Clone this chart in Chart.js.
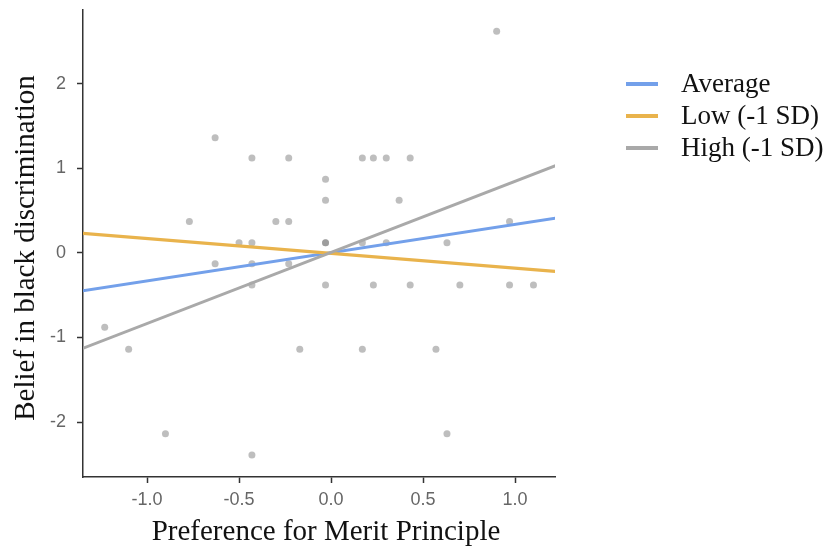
<!DOCTYPE html>
<html>
<head>
<meta charset="utf-8">
<script src="https://cdn.jsdelivr.net/npm/chart.js@4/dist/chart.umd.min.js"></script>
<style>
  html, body { margin: 0; padding: 0; background: #ffffff; }
  #wrap { width: 830px; height: 549px; }
</style>
</head>
<body>
<div id="wrap"><canvas id="c" width="830" height="549"></canvas></div>
<script>
// ---- data ----
const pointsX = [-0.63, -0.43, -0.23, -0.03, -0.03, -0.77, -0.30, -0.23, 0.90, 0.17, 0.23, 0.30, 0.43, 0.37, 0.97,
                 -0.50, -0.43, -0.03, -0.03, -0.63, -0.43, -0.23, -0.43, -0.03, -1.23, -1.10, -0.17, -0.90, -0.43,
                 0.17, 0.30, 0.63, 0.23, 0.43, 0.70, 0.97, 1.10, 0.17, 0.57, 0.63];
const pointsY = [1.36, 1.12, 1.12, 0.87, 0.62, 0.37, 0.37, 0.37, 2.62, 1.12, 1.12, 1.12, 1.12, 0.62, 0.37,
                 0.12, 0.12, 0.12, 0.12, -0.13, -0.13, -0.13, -0.38, -0.38, -0.88, -1.14, -1.14, -2.14, -2.39,
                 0.12, 0.12, 0.12, -0.38, -0.38, -0.38, -0.38, -0.38, -1.14, -1.14, -2.14];
const lineX = [-1.35, 1.22];
const seriesNames = ['Average', 'Low (-1 SD)', 'High (-1 SD)'];
const averageY = [-0.45, 0.41];
const lowY = [0.23, -0.22];
const highY = [-1.13, 1.03];
const xTicks = [-1.0, -0.5, 0.0, 0.5, 1.0];
const yTicks = [-2, -1, 0, 1, 2];
const xRange = [-1.348, 1.217];
const yRange = [-2.65, 2.87];
const xTitle = 'Preference for Merit Principle';
const yTitle = 'Belief in black discrimination';

const colors = ['#73a0ea', '#e9b34c', '#a9a9a9'];
const lineSeries = [averageY, lowY, highY];

const toXY = (xs, ys) => xs.map((x, i) => ({x: x, y: ys[i]}));

const datasets = [];
[2, 1, 0].forEach(i => {
  datasets.push({
    type: 'line',
    label: seriesNames[i],
    data: toXY(lineX, lineSeries[i]),
    borderColor: colors[i],
    backgroundColor: colors[i],
    borderWidth: 3,
    pointRadius: 0,
    fill: false,
    tension: 0
  });
});
datasets.push({
  type: 'scatter',
  label: 'points',
  data: toXY(pointsX, pointsY),
  backgroundColor: 'rgba(125,125,125,0.5)',
  borderWidth: 0,
  pointRadius: 3.5
});

const serif = '"Liberation Serif", "Times New Roman", serif';

const legendAndTitlesPlugin = {
  id: 'customLegend',
  afterDraw(chart) {
    const ctx = chart.ctx;
    ctx.save();
    // legend
    const x0 = 626, x1 = 658, tx = 681;
    const ys = [84, 116, 148];
    seriesNames.forEach((name, i) => {
      ctx.strokeStyle = colors[i];
      ctx.lineWidth = 4;
      ctx.beginPath();
      ctx.moveTo(x0, ys[i]);
      ctx.lineTo(x1, ys[i]);
      ctx.stroke();
      ctx.fillStyle = '#111111';
      ctx.font = '27px ' + serif;
      ctx.textBaseline = 'middle';
      ctx.textAlign = 'left';
      ctx.fillText(name, tx, ys[i] + 1);
    });
    // axis titles
    ctx.fillStyle = '#111111';
    ctx.font = '29px ' + serif;
    ctx.textAlign = 'center';
    ctx.textBaseline = 'alphabetic';
    ctx.fillText(xTitle, 326, 540);
    ctx.translate(34, 248);
    ctx.rotate(-Math.PI / 2);
    ctx.fillText(yTitle, 0, 0);
    ctx.restore();
  }
};

const tickFont = { family: '"Liberation Sans", Arial, sans-serif', size: 18 };

new Chart(document.getElementById('c'), {
  data: { datasets: datasets },
  options: {
    responsive: false,
    animation: false,
    events: [],
    layout: { padding: { left: 0, right: 275, top: 10, bottom: 0 } },
    plugins: { legend: { display: false }, tooltip: { enabled: false } },
    scales: {
      x: {
        type: 'linear',
        min: xRange[0],
        max: xRange[1],
        afterBuildTicks: s => { s.ticks = xTicks.map(v => ({value: v})); },
        afterFit: s => { s.height = 72; s.paddingLeft = 0; s.paddingRight = 0; },
        grid: { drawOnChartArea: false, drawTicks: true, tickLength: 6, tickWidth: 1.5, tickColor: '#333333' },
        border: { display: true, color: '#333333', width: 1.5 },
        ticks: { font: tickFont, color: '#666666', padding: 6, callback: v => v.toFixed(1), maxRotation: 0 }
      },
      y: {
        type: 'linear',
        min: yRange[0],
        max: yRange[1],
        afterBuildTicks: s => { s.ticks = yTicks.map(v => ({value: v})); },
        afterFit: s => { s.width = 83; s.paddingTop = 0; s.paddingBottom = 0; },
        grid: { drawOnChartArea: false, drawTicks: true, tickLength: 6, tickWidth: 1.5, tickColor: '#333333' },
        border: { display: true, color: '#333333', width: 1.5 },
        ticks: { font: tickFont, color: '#666666', padding: 11, callback: v => String(v) }
      }
    }
  },
  plugins: [legendAndTitlesPlugin]
});
</script>
</body>
</html>
